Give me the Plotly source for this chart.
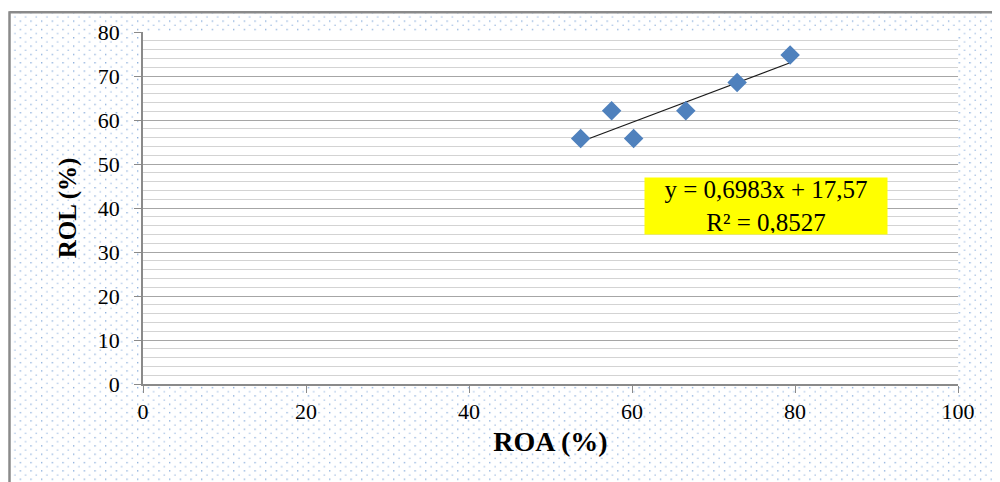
import base64
import plotly.graph_objects as go

# ---- data ----
roa = [53.7, 57.5, 60.2, 66.6, 72.9, 79.4]
rol = [55.8, 62.1, 55.8, 62.1, 68.5, 74.8]
slope = 0.6983
intercept = 17.57
eq_text = "y = 0,6983x + 17,57<br>R² = 0,8527"
x_ticks = [0, 20, 40, 60, 80, 100]
y_ticks = [0, 10, 20, 30, 40, 50, 60, 70, 80]

# page body has an 8px margin; figure coordinates are offset accordingly
W, H = 1000, 482
L, R, T, B = 135, 50, 21, 106
pw, ph = W - L - R, H - T - B

svg = f'''<svg xmlns="http://www.w3.org/2000/svg" width="{W}" height="{H}" viewBox="0 0 {W} {H}" preserveAspectRatio="none">
<defs><pattern id="p" width="10.67" height="8.4" patternUnits="userSpaceOnUse">
<rect x="1" y="1" width="1.3" height="1.3" fill="#7fa6d8"/>
<rect x="6.3" y="5.2" width="1.3" height="1.3" fill="#9dbbe3"/>
</pattern></defs>
<rect x="0" y="0" width="{W}" height="{H}" fill="white"/>
<rect x="3" y="2" width="{W-3}" height="{H-2}" fill="url(#p)"/>
<rect x="{L}" y="{T}" width="{pw}" height="{ph}" fill="white"/>
</svg>'''
src = "data:image/svg+xml;base64," + base64.b64encode(svg.encode()).decode()

fig = go.Figure()
fig.add_trace(go.Scatter(
    x=[min(roa), max(roa)],
    y=[slope * min(roa) + intercept, slope * max(roa) + intercept],
    mode="lines", line=dict(color="#1a1a1a", width=1.2),
    showlegend=False, hoverinfo="skip"))
fig.add_trace(go.Scatter(
    x=roa, y=rol, mode="markers",
    marker=dict(symbol="diamond", size=15, color="#4f81bd",
                line=dict(width=0)),
    showlegend=False))

font_serif = "Liberation Serif, Times New Roman, serif"
fig.update_layout(
    width=W, height=H,
    margin=dict(l=L, r=R, t=T, b=B),
    paper_bgcolor="white", plot_bgcolor="white",
    font=dict(family=font_serif, color="black", size=22),
    images=[dict(source=src, xref="paper", yref="paper",
                 x=-L / pw, y=1 + T / ph, sizex=W / pw, sizey=H / ph,
                 xanchor="left", yanchor="top", sizing="stretch",
                 layer="below")],
    shapes=[
        dict(type="line", xref="paper", yref="paper",
             x0=-(L - 1.5) / pw, x1=-(L - 1.5) / pw, y0=-(B + 10) / ph, y1=1 + (T - 0) / ph,
             line=dict(color="#8a8a8a", width=2.5)),
        dict(type="line", xref="paper", yref="paper",
             x0=-(L - 1.5) / pw, x1=1 + (R + 5) / pw, y0=1 + (T - 1) / ph, y1=1 + (T - 1) / ph,
             line=dict(color="#8a8a8a", width=2.5)),
    ],
    annotations=[dict(
        x=76.4, y=40.5, xref="x", yref="y", text=eq_text, showarrow=False,
        font=dict(family=font_serif, size=25, color="black"),
        bgcolor="#ffff00", align="center", width=240, height=54,
        borderpad=1)],
)
fig.update_xaxes(
    range=[0, 100], tickvals=x_ticks, ticks="outside", ticklen=7,
    tickcolor="#8a8a8a", showline=True, linecolor="#8a8a8a", linewidth=1.5,
    showgrid=False, zeroline=False,
    title=dict(text="<b>ROA (%)</b>", font=dict(size=28, family=font_serif), standoff=8),
    tickfont=dict(size=22))
fig.update_yaxes(
    range=[0, 80], tickvals=y_ticks, ticks="outside", ticklen=7,
    tickcolor="#8a8a8a", showline=True, linecolor="#8a8a8a", linewidth=1.5,
    showgrid=True, gridcolor="#a6a6a6", gridwidth=1.3, zeroline=False,
    minor=dict(dtick=2, showgrid=True, gridcolor="#d3d3d3", gridwidth=1.3, ticks=""),
    ticklabelstandoff=10,
    title=dict(text="<b>ROL (%)</b>", font=dict(size=25, family=font_serif), standoff=14),
    tickfont=dict(size=22))

fig.write_html("out.html")
